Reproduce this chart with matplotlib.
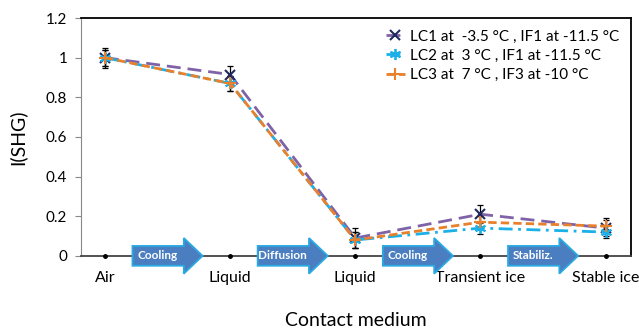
import numpy as np
from matplotlib import pyplot as plt
from matplotlib.patches import FancyArrow

plt.rcParams['font.family'] = ['Lato', 'DejaVu Sans']

stages = ['Air', 'Liquid', 'Liquid', 'Transient ice', 'Stable ice']
steps = ['Cooling', 'Diffusion', 'Cooling', 'Stabiliz.']

lc1 = [1.0, 0.915, 0.09, 0.21, 0.14]
lc2 = [1.0, 0.87, 0.08, 0.14, 0.12]
lc3 = [1.0, 0.87, 0.08, 0.17, 0.15]
err1 = [0.05, 0.045, 0.05, 0.045, 0.04]
err2 = [0.04, 0.04, 0.04, 0.03, 0.03]
err3 = [0.04, 0.04, 0.04, 0.03, 0.04]
labels = ['LC1 at  -3.5 °C , IF1 at -11.5 °C',
          'LC2 at  3 °C , IF1 at -11.5 °C',
          'LC3 at  7 °C , IF3 at -10 °C']

x = np.arange(len(stages))

fig = plt.figure(figsize=(6.39, 3.34), dpi=100)
ax = fig.add_axes([0.127, 0.234, 0.86, 0.712])

# error bars (black) drawn under the lines
for vals, err in zip([lc1, lc2, lc3], [err1, err2, err3]):
    ax.errorbar(x, vals, yerr=err, fmt='none', ecolor='black', elinewidth=0.9,
                capsize=2, capthick=0.9, zorder=2)

ax.plot(x, lc1, color='#7F62A8', ls=(0, (5, 2.5)), lw=2, marker='x', ms=6.5,
        mec='#1F2A5C', mew=1.5, label=labels[0], zorder=3)
ax.plot(x, lc2, color='#1BB0E8', ls=(0, (5, 2, 1, 2)), lw=2, marker=(6, 2, 0),
        ms=8, mec='#1BB0E8', mew=1.3, label=labels[1], zorder=4)
ax.plot(x, lc3, color='#E8802C', ls=(0, (3, 1.5)), lw=2, marker='+', ms=8,
        mec='#E8802C', mew=1.5, label=labels[2], zorder=5)

# baseline dots at each stage
ax.plot(x, np.zeros(len(x)), 'o', color='black', ms=2.5, zorder=6, clip_on=False)

# process arrows between stages
for i, s in enumerate(steps):
    x0 = i + 0.22
    arr = FancyArrow(x0, 0.0, 0.56, 0.0, width=0.1, head_width=0.18,
                     head_length=0.15, length_includes_head=True,
                     facecolor='#4A7EC0', edgecolor='#2AAAE2', lw=1.3,
                     clip_on=False, zorder=7)
    ax.add_patch(arr)
    ax.text(x0 + 0.2, 0.0, s, color='white', fontsize=8.5, fontweight='bold',
            ha='center', va='center', zorder=8, clip_on=False)

ax.set_xlim(-0.19, 4.2)
ax.set_ylim(0, 1.2)
ax.set_yticks(np.arange(0, 1.21, 0.2))
ax.set_yticklabels(['0', '0.2', '0.4', '0.6', '0.8', '1', '1.2'], fontsize=11)
ax.set_xticks(x)
ax.set_xticklabels(stages, fontsize=11.5)
ax.tick_params(axis='x', length=0, pad=11)
ax.tick_params(axis='y', length=4, direction='out', color='#888888', pad=6)

for side in ['top', 'right']:
    ax.spines[side].set_color('black')
    ax.spines[side].set_linewidth(1.3)
ax.spines['left'].set_color('#888888')
ax.spines['bottom'].set_color('#444444')
ax.spines['bottom'].set_linewidth(1.3)

ax.set_ylabel('I(SHG)', fontsize=14, labelpad=14)
ax.set_xlabel('Contact medium', fontsize=14, labelpad=19)

ax.legend(loc='upper right', frameon=False, fontsize=11, handlelength=1.3,
          handletextpad=0.3, labelspacing=0.35, borderaxespad=0.35)

fig.savefig('out.png', dpi=100)
